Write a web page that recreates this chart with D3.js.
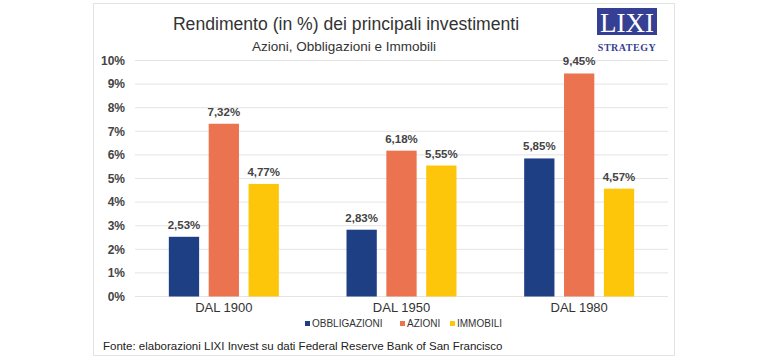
<!DOCTYPE html>
<html>
<head>
<meta charset="utf-8">
<script src="https://cdn.jsdelivr.net/npm/d3@7"></script>
<style>
  body { margin: 0; background: #fff; }
  text { font-family: "Liberation Sans", Arial, sans-serif; }
</style>
</head>
<body>
<div class="chart"></div>
<script>
var periods = ["DAL 1900", "DAL 1950", "DAL 1980"];
var seriesNames = ["OBBLIGAZIONI", "AZIONI", "IMMOBILI"];
var obbligazioni = [2.53, 2.83, 5.85];
var azioni = [7.32, 6.18, 9.45];
var immobili = [4.77, 5.55, 4.57];
var yTicks = [0, 1, 2, 3, 4, 5, 6, 7, 8, 9, 10];
var colors = ["#1f3f84", "#ec7350", "#fdc60a"];

var svgWidth = 760, svgHeight = 363;
var plot = { left: 135, right: 668, top: 60.5, bottom: 296.5 };

var svg = d3.select(".chart").append("svg")
  .attr("width", svgWidth)
  .attr("height", svgHeight);

// frame
svg.append("rect")
  .attr("x", 93.5).attr("y", 3.5)
  .attr("width", 581).attr("height", 352)
  .attr("fill", "#fff").attr("stroke", "#e3e3e3");

// titles
svg.append("text").attr("x", 346).attr("y", 30)
  .attr("text-anchor", "middle").attr("font-size", "17.6px").attr("fill", "#333")
  .text("Rendimento (in %) dei principali investimenti");
svg.append("text").attr("x", 344).attr("y", 51)
  .attr("text-anchor", "middle").attr("font-size", "13.5px").attr("fill", "#333")
  .text("Azioni, Obbligazioni e Immobili");

// logo
svg.append("rect").attr("x", 597).attr("y", 8).attr("width", 60).attr("height", 27)
  .attr("fill", "#353f93");
svg.append("text").attr("x", 627).attr("y", 32)
  .attr("text-anchor", "middle").attr("font-size", "27px").attr("fill", "#fff")
  .style("font-family", "'Liberation Serif', serif")
  .text("LIXI");
svg.append("text").attr("x", 627).attr("y", 51)
  .attr("text-anchor", "middle").attr("font-size", "10px").attr("fill", "#353f93")
  .attr("font-weight", "bold").attr("letter-spacing", "0.5px")
  .style("font-family", "'Liberation Serif', serif")
  .text("STRATEGY");

var x0 = d3.scaleBand().domain(periods).range([plot.left, plot.right]).paddingInner(0).paddingOuter(0);
var x1 = d3.scaleBand().domain(seriesNames).range([0, 110]).paddingInner(0.24);
var y = d3.scaleLinear().domain([0, 10]).range([plot.bottom, plot.top]);

// gridlines
svg.append("g").selectAll("line").data(yTicks).enter().append("line")
  .attr("x1", plot.left).attr("x2", plot.right)
  .attr("y1", d => y(d)).attr("y2", d => y(d))
  .attr("stroke", "#e4e4e4").attr("stroke-width", 1);

// y axis labels
var leftAxis = d3.axisLeft(y).tickValues(yTicks).tickSize(0).tickPadding(0)
  .tickFormat(d => d + "%");
var yAxis = svg.append("g").attr("transform", "translate(125,0)").call(leftAxis);
yAxis.select(".domain").remove();
yAxis.selectAll("text").attr("font-size", "12px").attr("fill", "#444")
  .attr("font-weight", "bold").style("font-family", "'Liberation Sans', Arial, sans-serif");

// bars
var rows = periods.map((p, i) => ({
  period: p,
  values: [obbligazioni[i], azioni[i], immobili[i]]
}));

var groups = svg.append("g").selectAll("g").data(rows).enter().append("g")
  .attr("transform", d => `translate(${x0(d.period) + x0.bandwidth() / 2 - 55},0)`);

groups.selectAll("rect").data(d => d.values.map((v, j) => ({ name: seriesNames[j], v: v, j: j })))
  .enter().append("rect")
  .attr("x", d => x1(d.name))
  .attr("y", d => y(d.v))
  .attr("width", x1.bandwidth())
  .attr("height", d => y(0) - y(d.v))
  .attr("fill", d => colors[d.j]);

groups.selectAll("text").data(d => d.values.map((v, j) => ({ name: seriesNames[j], v: v })))
  .enter().append("text")
  .attr("x", d => x1(d.name) + x1.bandwidth() / 2)
  .attr("y", d => y(d.v) - 8)
  .attr("text-anchor", "middle")
  .attr("font-size", "11.5px").attr("font-weight", "bold").attr("fill", "#444")
  .text(d => d.v.toFixed(2).replace(".", ",") + "%");

// x axis labels
var bottomAxis = d3.axisBottom(x0).tickSize(0).tickPadding(0);
var xAxis = svg.append("g").attr("transform", "translate(0,303)").call(bottomAxis);
xAxis.select(".domain").remove();
xAxis.selectAll("text").attr("font-size", "13px").attr("fill", "#333")
  .style("font-family", "'Liberation Sans', Arial, sans-serif");

// legend
var legendX = [305, 400, 450];
var legend = svg.append("g").selectAll("g").data(seriesNames).enter().append("g")
  .attr("transform", (d, i) => `translate(${legendX[i]},327)`);
legend.append("rect").attr("x", 0).attr("y", -6).attr("width", 5).attr("height", 5)
  .attr("fill", (d, i) => colors[i]);
legend.append("text").attr("x", 7).attr("y", 0)
  .attr("font-size", "10px").attr("fill", "#333").text(d => d);

// source
svg.append("text").attr("x", 103).attr("y", 350)
  .attr("font-size", "11.5px").attr("fill", "#222")
  .text("Fonte: elaborazioni LIXI Invest su dati Federal Reserve Bank of San Francisco");
</script>
</body>
</html>
